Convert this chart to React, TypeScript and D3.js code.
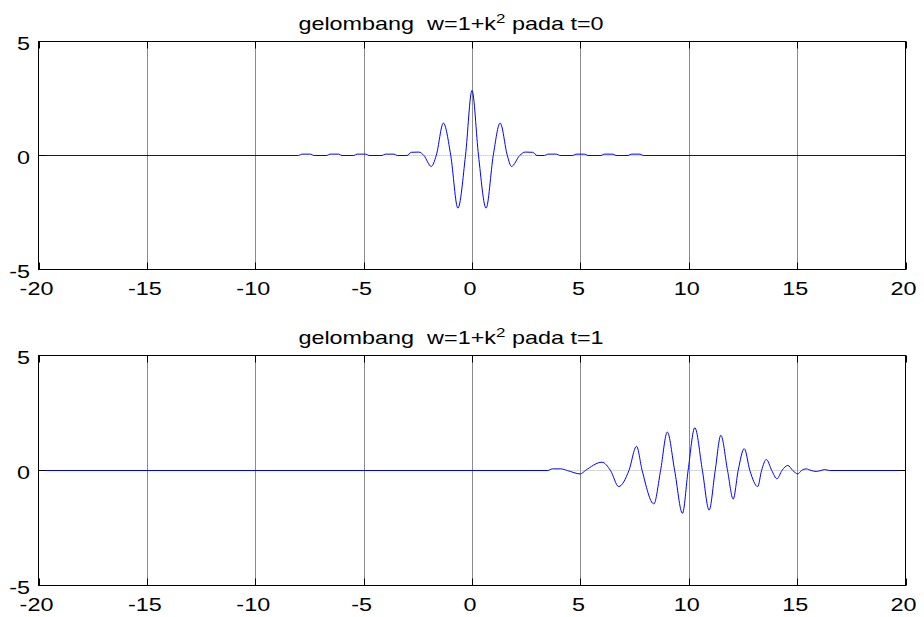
import React from "react";
import * as d3 from "d3";

const xTicks = [-20, -15, -10, -5, 0, 5, 10, 15, 20];
const yTicks = [-5, 0, 5];
const titles = ["0", "1"];

// t = 0 wave
const topX = [-20, -8.0, -7.85, -7.45, -7.3, -6.7, -6.55, -6.15, -6.0, -5.45, -5.3, -4.9, -4.75, -4.15, -4.0, -3.6, -3.45,
  -3.0, -2.8, -2.45, -2.22, -1.88, -1.65, -1.32, -0.98, -0.65, -0.3, 0, 0.3, 0.65, 0.98, 1.3, 1.63, 1.82, 2.2, 2.45, 2.8, 3.0,
  3.35, 3.5, 3.9, 4.05, 4.65, 4.8, 5.2, 5.35, 5.95, 6.1, 6.5, 6.65, 7.2, 7.35, 7.75, 7.9, 20];
const topY = [0, 0, 0.06, 0.06, 0, 0, 0.06, 0.06, 0, 0, 0.06, 0.06, 0, 0, 0.06, 0.06, 0,
  0, 0.14, 0.15, 0, -0.48, 0, 1.42, 0, -2.31, 0, 2.85, 0, -2.31, 0, 1.42, 0, -0.48, 0, 0.15, 0.14, 0,
  0, 0.06, 0.06, 0, 0, 0.06, 0.06, 0, 0, 0.06, 0.06, 0, 0, 0.06, 0.06, 0, 0];

// t = 1 wave
const botX = [-20, 3.5, 3.7, 4.1, 4.4, 5.0, 5.23, 6.0, 6.39, 6.77, 7.24, 7.59, 7.85, 8.39, 8.7, 9.01, 9.35, 9.71, 9.97,
  10.28, 10.63, 10.94, 11.22, 11.48, 11.79, 12.05, 12.28, 12.56, 12.82, 13.18, 13.36, 13.58, 13.83, 14.07, 14.3, 14.57,
  14.8, 15.03, 15.2, 15.42, 15.65, 15.88, 16.1, 16.27, 16.5, 20];
const botY = [0, 0, 0.07, 0.07, 0, -0.15, 0, 0.36, 0, -0.70, 0, 1.05, 0, -1.45, 0, 1.67, 0, -1.86, 0,
  1.86, 0, -1.72, 0, 1.53, 0, -1.24, 0, 0.95, 0, -0.70, 0, 0.48, 0, -0.36, 0, 0.22,
  0, -0.15, 0, 0.07, 0, -0.04, 0, 0.04, 0, 0];

const FONT = "'Liberation Sans', Arial, Helvetica, sans-serif";
const SX = 1.3;

function Txt({ x, y, anchor, children, size = 18 }: any) {
  return (
    <text transform={`translate(${x},${y}) scale(${SX},1)`} textAnchor={anchor} fontFamily={FONT} fontSize={size} fill="#000">
      {children}
    </text>
  );
}

function Panel({ top, bottom, xs, ys, t }: { top: number; bottom: number; xs: number[]; ys: number[]; t: string }) {
  const x = d3.scaleLinear().domain([-20, 20]).range([38.5, 905.5]);
  const y = d3.scaleLinear().domain([-5, 5]).range([bottom, top]);
  const pts = xs.map((v, i) => [v, ys[i]] as [number, number]);
  const line = d3.line<[number, number]>().x(d => x(d[0])).y(d => y(d[1])).curve(d3.curveMonotoneX);
  const tl = 7;
  const y0 = y(0);
  return (
    <g>
      {xTicks.slice(1, -1).map(v => (
        <line key={"g" + v} x1={Math.round(x(v)) + 0.5} x2={Math.round(x(v)) + 0.5} y1={top} y2={bottom} stroke="#8a8a8a" strokeWidth={1} />
      ))}
      <line x1={x(-3.2)} x2={x(3.2)} y1={y0} y2={y0} stroke="#b0b0b0" strokeWidth={1} strokeDasharray="1,1" />
      <line x1={x(4.5)} x2={x(16.7)} y1={y0} y2={y0} stroke="#b0b0b0" strokeWidth={1} strokeDasharray="1,1" />
      <path d={line(pts) || ""} fill="none" stroke="#0000ff" strokeWidth={1} />
      <rect x={x(-20)} y={top} width={x(20) - x(-20)} height={bottom - top} fill="none" stroke="#000" strokeWidth={1} />
      {xTicks.map(v => {
        const px = Math.round(x(v)) + 0.5;
        return (
          <g key={"xt" + v}>
            <line x1={px} x2={px} y1={bottom} y2={bottom - tl} stroke="#000" />
            <line x1={px} x2={px} y1={top} y2={top + tl} stroke="#000" />
            <Txt x={x(v) - 2} y={bottom + 25} anchor="middle">{v}</Txt>
          </g>
        );
      })}
      {yTicks.map(v => (
        <g key={"yt" + v}>
          <line x1={x(-20)} x2={x(-20) + tl} y1={y(v)} y2={y(v)} stroke="#000" />
          <line x1={x(20)} x2={x(20) - tl} y1={y(v)} y2={y(v)} stroke="#000" />
          <Txt x={30} y={y(v) + 8} anchor="end">{v}</Txt>
        </g>
      ))}
      <Txt x={451} y={top - 12} anchor="middle">
        <tspan>{"gelombang\u00a0\u00a0w=1+k"}</tspan>
        <tspan dy={-7} fontSize={13}>2</tspan>
        <tspan dy={7}>{" pada t=" + t}</tspan>
      </Txt>
    </g>
  );
}

export default function App() {
  return (
    <svg width={924} height={617} style={{ position: "absolute", left: 0, top: 0, background: "#fff" }}>
      <rect x={0} y={0} width={924} height={617} fill="#fff" />
      <Panel top={41.5} bottom={269.5} xs={topX} ys={topY} t={titles[0]} />
      <Panel top={355.5} bottom={585.5} xs={botX} ys={botY} t={titles[1]} />
    </svg>
  );
}
